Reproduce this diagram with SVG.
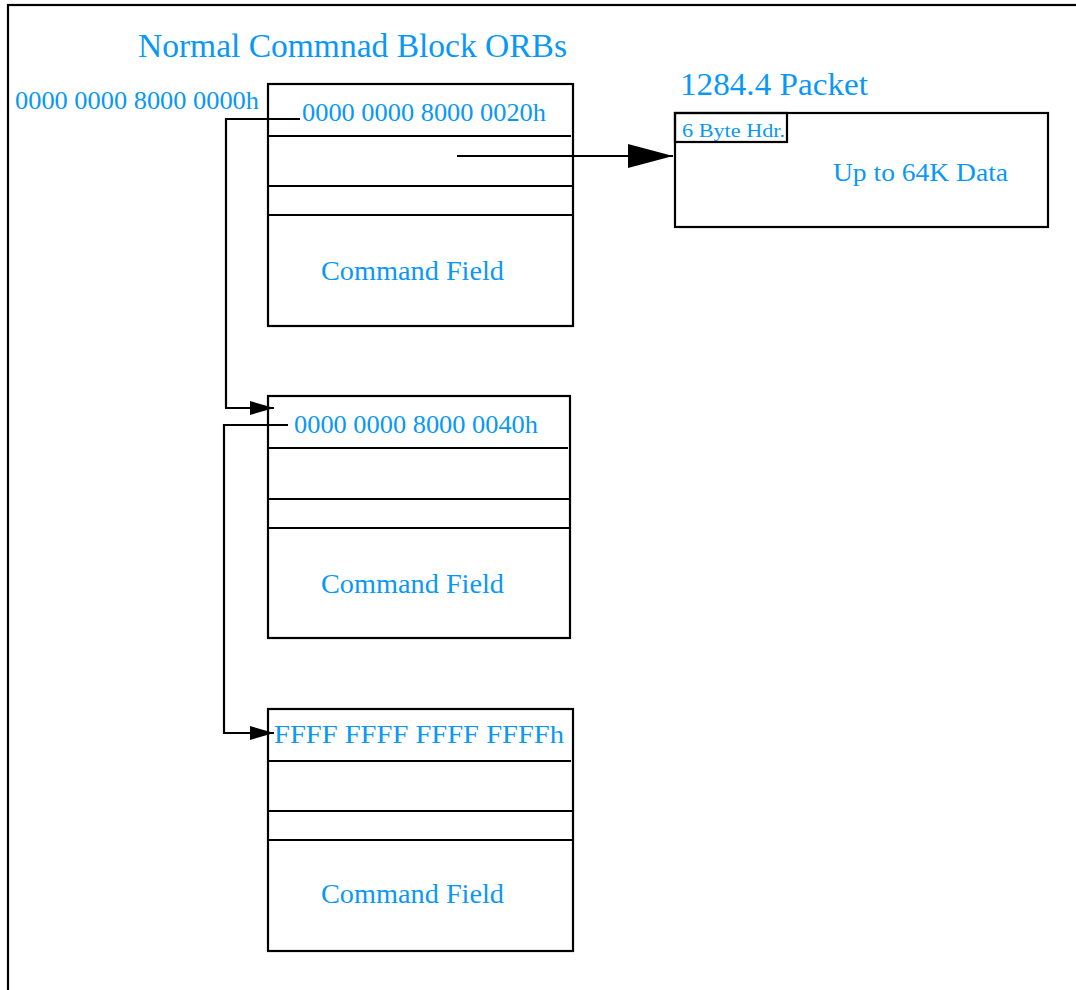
<svg xmlns="http://www.w3.org/2000/svg" width="1076" height="990" viewBox="0 0 1076 990">
<style>
.t{font-family:"Liberation Serif","Times New Roman",serif;fill:#0a98f7}
.box{fill:none;stroke:#000;stroke-width:2.2}
.ln{stroke:#000;stroke-width:2.2;fill:none}
.con{stroke:#000;stroke-width:2.2;fill:none}
</style>
<defs>
<marker id="sm" markerUnits="userSpaceOnUse" markerWidth="25" markerHeight="14" refX="24" refY="7" orient="auto">
<path d="M0,0 L24,7 L0,14 z" fill="#000"/>
</marker>
<marker id="big" markerUnits="userSpaceOnUse" markerWidth="46" markerHeight="24" refX="45" refY="12" orient="auto">
<path d="M0,0 L45,12 L0,24 z" fill="#000"/>
</marker>
</defs>
<rect x="0" y="0" width="1076" height="990" fill="#fff"/>
<rect x="8" y="5" width="1100" height="1020" class="box"/>
<text class="t" x="138" y="57" font-size="33" textLength="429" lengthAdjust="spacingAndGlyphs">Normal Commnad Block ORBs</text>
<text class="t" x="15" y="109" font-size="26" textLength="244" lengthAdjust="spacingAndGlyphs">0000 0000 8000 0000h</text>
<text class="t" x="680" y="95" font-size="32" textLength="188" lengthAdjust="spacingAndGlyphs">1284.4 Packet</text>

<g id="orb1">
<rect x="268" y="84" width="305" height="242" class="box"/>
<line x1="268" y1="136" x2="571" y2="136" class="ln"/>
<line x1="268" y1="186" x2="573" y2="186" class="ln"/>
<line x1="268" y1="215" x2="573" y2="215" class="ln"/>
<text class="t" x="302" y="121" font-size="26" textLength="244" lengthAdjust="spacingAndGlyphs">0000 0000 8000 0020h</text>
<text class="t" x="321" y="280" font-size="27" textLength="183" lengthAdjust="spacingAndGlyphs">Command Field</text>
</g>

<g id="orb2">
<rect x="268" y="396" width="302" height="242" class="box"/>
<line x1="268" y1="448" x2="568" y2="448" class="ln"/>
<line x1="268" y1="499" x2="570" y2="499" class="ln"/>
<line x1="268" y1="528" x2="570" y2="528" class="ln"/>
<text class="t" x="294" y="433" font-size="26" textLength="244" lengthAdjust="spacingAndGlyphs">0000 0000 8000 0040h</text>
<text class="t" x="321" y="593" font-size="27" textLength="183" lengthAdjust="spacingAndGlyphs">Command Field</text>
</g>

<g id="orb3">
<rect x="268" y="709" width="305" height="242" class="box"/>
<line x1="268" y1="761" x2="571" y2="761" class="ln"/>
<line x1="268" y1="811" x2="573" y2="811" class="ln"/>
<line x1="268" y1="840" x2="573" y2="840" class="ln"/>
<text class="t" x="274" y="743" font-size="26" textLength="290" lengthAdjust="spacingAndGlyphs">FFFF FFFF FFFF FFFFh</text>
<text class="t" x="321" y="903" font-size="27" textLength="183" lengthAdjust="spacingAndGlyphs">Command Field</text>
</g>

<g id="packet">
<rect x="675" y="113" width="373" height="114" class="box"/>
<rect x="675" y="113" width="112" height="29" class="box"/>
<text class="t" x="682" y="137" font-size="19" textLength="103" lengthAdjust="spacingAndGlyphs">6 Byte Hdr.</text>
<text class="t" x="833" y="181" font-size="26" textLength="175" lengthAdjust="spacingAndGlyphs">Up to 64K Data</text>
</g>

<g id="connectors">
<polyline points="300,119 226,119 226,408 274,408" class="con" marker-end="url(#sm)"/>
<polyline points="288,425 224,425 224,733 274,733" class="con" marker-end="url(#sm)"/>
<line x1="457" y1="156" x2="673" y2="156" class="con" marker-end="url(#big)"/>
</g>
</svg>
